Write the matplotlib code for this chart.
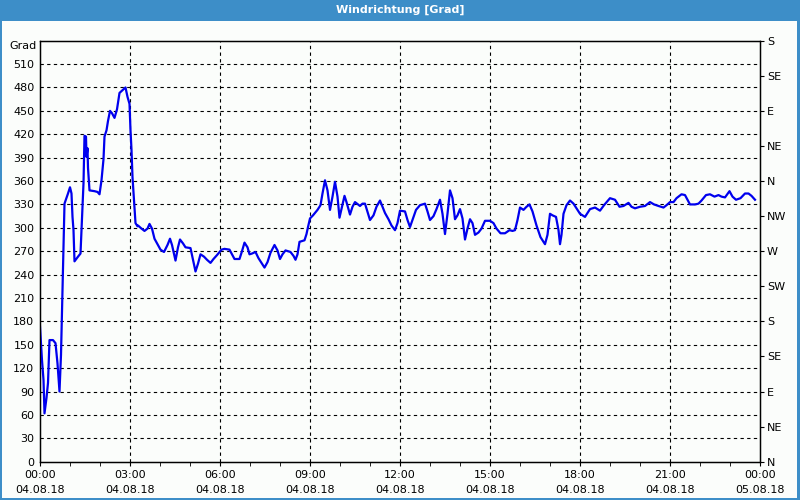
import numpy as np
import matplotlib
matplotlib.use('Agg')
import matplotlib.pyplot as plt
from matplotlib.patches import Rectangle

# wind direction readings, minutes after midnight / degrees
minutes = [0, 4, 7, 9, 13, 16, 19, 26, 31, 35, 39, 42, 49, 56, 60, 63, 65, 67, 69, 76,
           81, 83, 85, 87, 88, 89, 92, 93, 95, 96, 99, 109, 115, 119, 123, 127, 129, 133, 136, 140,
           144, 149, 154, 159, 166, 171, 175, 179, 181, 183, 185, 188, 191, 195, 196, 203, 209, 215, 219, 224,
           229, 236, 241, 248, 255, 260, 264, 271, 276, 280, 286, 291, 301, 306, 311, 316, 321, 328, 334, 341,
           347, 354, 363, 369, 379, 384, 389, 399, 404, 409, 415, 419, 424, 431, 437, 443, 449, 455, 461, 469,
           475, 480, 485, 491, 501, 507, 511, 515, 519, 529, 533, 536, 540, 546, 555, 561, 565, 570, 575, 580,
           585, 590, 595, 599, 603, 609, 613, 620, 625, 630, 640, 645, 650, 660, 667, 673, 680, 685, 690, 697,
           703, 710, 715, 720, 730, 735, 740, 745, 752, 760, 770, 775, 780, 787, 793, 800, 805, 810, 815, 820,
           825, 830, 835, 840, 845, 850, 855, 860, 865, 870, 877, 883, 890, 900, 907, 913, 921, 930, 939, 945,
           950, 955, 960, 967, 973, 979, 985, 993, 1001, 1010, 1015, 1020, 1025, 1032, 1037, 1040, 1043, 1047, 1053, 1060,
           1067, 1073, 1080, 1090, 1100, 1110, 1120, 1128, 1140, 1150, 1159, 1167, 1177, 1183, 1190, 1200, 1210, 1220, 1228, 1237,
           1247, 1253, 1260, 1267, 1273, 1283, 1290, 1300, 1310, 1317, 1323, 1332, 1340, 1349, 1357, 1363, 1370, 1379, 1385, 1392,
           1401, 1410, 1417, 1423, 1430]
degrees = [173, 130, 105, 62, 82, 101, 156, 156, 152, 126, 90, 137, 331, 344, 352, 344, 314, 297, 257, 263,
           267, 297, 327, 357, 389, 418, 417, 391, 402, 377, 348, 347, 346, 343, 361, 388, 417, 425, 437, 450,
           447, 441, 452, 473, 477, 480, 468, 459, 425, 400, 365, 335, 306, 302, 303, 299, 296, 299, 305, 299,
           286, 278, 272, 269, 278, 286, 278, 258, 275, 285, 280, 275, 274, 259, 244, 254, 266, 263, 259, 255,
           260, 265, 272, 273, 272, 266, 260, 260, 270, 281, 275, 266, 267, 269, 261, 255, 249, 256, 268, 278,
           271, 260, 266, 271, 269, 264, 259, 266, 282, 284, 292, 301, 312, 316, 323, 329, 344, 361, 348, 323,
           340, 359, 340, 313, 324, 341, 333, 317, 327, 333, 328, 331, 331, 310, 316, 327, 335, 327, 319, 311,
           303, 297, 306, 322, 321, 310, 301, 310, 323, 329, 331, 321, 310, 315, 324, 336, 318, 292, 318, 348,
           338, 311, 316, 324, 312, 285, 299, 311, 306, 291, 294, 299, 309, 309, 306, 299, 293, 293, 297, 296,
           297, 310, 326, 323, 327, 330, 321, 303, 288, 279, 291, 318, 316, 314, 297, 279, 291, 318, 329, 335,
           331, 325, 318, 314, 324, 326, 322, 329, 338, 336, 327, 328, 332, 327, 325, 327, 328, 333, 330, 328,
           326, 329, 333, 333, 338, 343, 342, 330, 330, 331, 335, 342, 343, 340, 342, 340, 339, 347, 340, 336,
           338, 344, 344, 341, 336]

left_ticks = list(range(0, 511, 30))
compass_ticks = list(range(0, 541, 45))
compass_labels = ['N', 'NE', 'E', 'SE', 'S', 'SW', 'W', 'NW', 'N', 'NE', 'E', 'SE', 'S']
hour_ticks = [0, 3, 6, 9, 12, 15, 18, 21, 24]
time_labels = ['00:00', '03:00', '06:00', '09:00', '12:00', '15:00', '18:00', '21:00', '00:00']
date_labels = ['04.08.18'] * 8 + ['05.08.18']

hours = np.array(minutes) / 60.0

bg = '#fbfdfb'
bar_blue = '#3d8ec8'
plt.rcParams['font.family'] = 'DejaVu Sans'
plt.rcParams['font.size'] = 8

fig = plt.figure(figsize=(8, 5), dpi=100, facecolor=bg)

# title bar and frame
fig.patches.append(Rectangle((0, 1 - 21 / 500), 1, 21 / 500, transform=fig.transFigure,
                             facecolor=bar_blue, edgecolor='none', zorder=0))
fig.patches.append(Rectangle((0, 0), 2 / 800, 1, transform=fig.transFigure,
                             facecolor=bar_blue, edgecolor='none'))
fig.patches.append(Rectangle((1 - 3 / 800, 0), 3 / 800, 1, transform=fig.transFigure,
                             facecolor=bar_blue, edgecolor='none'))
fig.patches.append(Rectangle((0, 0), 1, 2 / 500, transform=fig.transFigure,
                             facecolor=bar_blue, edgecolor='none'))
fig.text(0.5, 1 - 10 / 500, 'Windrichtung [Grad]', color='white', fontweight='bold',
         ha='center', va='center', fontsize=8)
fig.text(37 / 800, 1 - 46 / 500, 'Grad', ha='right', va='center', fontsize=8)

ax = fig.add_axes([40 / 800, 1 - 461.7 / 500, 720 / 800, 421 / 500])
ax.set_facecolor(bg)
ax.set_xlim(0, 24)
ax.set_ylim(0, 540)

for s in ax.spines.values():
    s.set_color('black')
    s.set_linewidth(1)

ax.plot(hours, degrees, color='#0000ee', lw=1.6, zorder=3)

ax.set_yticks(left_ticks)
ax.set_yticklabels([str(v) for v in left_ticks])
ax.tick_params(axis='y', length=0, pad=4)
for v in left_ticks[1:]:
    ax.axhline(v, color='black', lw=0.8, ls=(0, (3, 3)), zorder=1)
for h in hour_ticks[1:-1]:
    ax.axvline(h, color='black', lw=0.8, ls=(0, (3, 3)), zorder=1)

ax.set_xticks(hour_ticks)
ax.set_xticklabels([t + '\n' + d for t, d in zip(time_labels, date_labels)], linespacing=1.65)
ax.set_xticks(range(0, 25), minor=True)
ax.tick_params(axis='x', which='both', length=3, direction='out', pad=3)

ax2 = ax.twinx()
ax2.set_ylim(0, 540)
ax2.set_yticks(compass_ticks)
ax2.set_yticklabels(compass_labels)
ax2.tick_params(axis='y', length=3, pad=2)

fig.savefig('out.png', dpi=100, facecolor=bg)
